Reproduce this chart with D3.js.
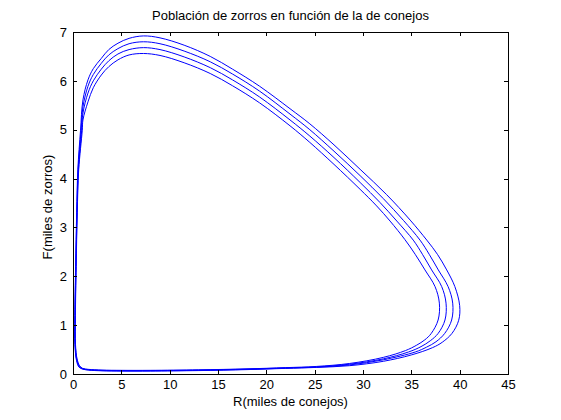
<!DOCTYPE html>
<html>
<head>
<meta charset="utf-8">
<script src="https://cdn.jsdelivr.net/npm/d3@7"></script>
<style>
  body { margin: 0; background: #fff; }
  text { font-family: Arial, "Liberation Sans", sans-serif; }
</style>
</head>
<body>
<div class="graph"></div>
<script>
// readings of the four orbits, R (thousand rabbits) and F (thousand foxes)
var rabbitsA = [0.36, 0.62, 1.0, 1.6, 3, 5, 8, 13, 18, 22, 25.2, 28.6, 32.1, 35.0, 37.2, 38.2, 39.2, 39.9, 40.0, 39.5, 38.66, 37.7, 36.6, 34.88, 32.45, 29.7, 27.0, 24.5, 22.45, 19.3, 16.5, 14.2, 11.5, 9.0, 7.3, 5.8, 4.65, 3.7, 2.93, 2.1, 1.55, 1.03, 0.78, 0.5, 0.38, 0.27, 0.19, 0.2];
var foxesA   = [0.28, 0.14, 0.10, 0.08, 0.065, 0.06, 0.06, 0.07, 0.09, 0.115, 0.135, 0.17, 0.26, 0.39, 0.54, 0.65, 0.83, 1.1, 1.4, 1.79, 2.13, 2.45, 2.74, 3.15, 3.67, 4.19, 4.69, 5.12, 5.43, 5.89, 6.24, 6.5, 6.73, 6.88, 6.92, 6.87, 6.77, 6.64, 6.46, 6.25, 6.02, 5.61, 4.99, 4.18, 3.3, 2.2, 1.2, 0.6];

var rabbitsB = [0.38, 0.64, 1.0, 1.6, 3, 5, 8, 13, 18, 22, 25.2, 28.6, 32.1, 35.4, 36.58, 37.55, 38.45, 39.17, 39.28, 38.8, 37.79, 36.85, 35.9, 34.2, 32.1, 29.7, 27.0, 24.5, 22.45, 19.3, 16.5, 14.2, 11.5, 9.0, 7.3, 5.8, 4.65, 3.7, 2.93, 2.1, 1.55, 1.03, 0.84, 0.53, 0.40, 0.29, 0.21, 0.22];
var foxesB   = [0.29, 0.15, 0.105, 0.085, 0.07, 0.065, 0.065, 0.075, 0.095, 0.12, 0.14, 0.185, 0.29, 0.45, 0.55, 0.66, 0.83, 1.105, 1.45, 1.79, 2.13, 2.45, 2.74, 3.14, 3.59, 4.06, 4.56, 5.0, 5.32, 5.79, 6.14, 6.39, 6.61, 6.76, 6.80, 6.76, 6.66, 6.53, 6.36, 6.13, 5.89, 5.47, 4.99, 4.18, 3.3, 2.2, 1.2, 0.6];

var rabbitsC = [0.40, 0.66, 1.0, 1.6, 3, 5, 8, 13, 18, 22, 25.2, 28.6, 32.1, 34.7, 36.0, 36.96, 37.77, 38.48, 38.59, 38.14, 37.1, 36.15, 35.2, 33.5, 31.76, 29.7, 27.0, 24.5, 22.45, 19.3, 16.5, 14.2, 11.5, 9.0, 7.3, 5.8, 4.65, 3.7, 2.93, 2.1, 1.55, 1.03, 0.90, 0.56, 0.42, 0.31, 0.23, 0.24];
var foxesC   = [0.30, 0.16, 0.11, 0.09, 0.075, 0.07, 0.07, 0.08, 0.10, 0.125, 0.145, 0.20, 0.31, 0.45, 0.56, 0.68, 0.83, 1.105, 1.45, 1.79, 2.13, 2.45, 2.74, 3.13, 3.51, 3.92, 4.43, 4.87, 5.2, 5.67, 6.02, 6.27, 6.49, 6.64, 6.68, 6.64, 6.55, 6.41, 6.24, 6.00, 5.75, 5.34, 4.99, 4.18, 3.3, 2.2, 1.2, 0.6];

var rabbitsD = [0.42, 0.68, 1.0, 1.6, 3, 5, 8, 13, 18, 22, 25.2, 28.6, 32.1, 34.4, 35.55, 36.4, 37.06, 37.77, 37.9, 37.45, 36.41, 35.4, 34.34, 32.8, 31.41, 29.7, 27.0, 24.5, 22.45, 19.3, 16.5, 14.2, 11.5, 9.0, 7.3, 5.8, 4.65, 3.7, 2.93, 2.1, 1.55, 1.03, 0.96, 0.59, 0.44, 0.33, 0.25, 0.26];
var foxesD   = [0.31, 0.17, 0.115, 0.095, 0.08, 0.075, 0.075, 0.085, 0.105, 0.13, 0.155, 0.215, 0.34, 0.48, 0.59, 0.70, 0.83, 1.105, 1.45, 1.79, 2.13, 2.45, 2.75, 3.13, 3.44, 3.78, 4.29, 4.74, 5.08, 5.55, 5.90, 6.15, 6.37, 6.52, 6.56, 6.53, 6.43, 6.29, 6.12, 5.86, 5.57, 5.20, 4.99, 4.18, 3.3, 2.2, 1.2, 0.6];

var xTicks = [0, 5, 10, 15, 20, 25, 30, 35, 40, 45];
var yTicks = [0, 1, 2, 3, 4, 5, 6, 7];

const width = 561;
const height = 420;
const padLeft = 73, padRight = 508, padTop = 32, padBottom = 374;

var orbits = [[rabbitsA, foxesA], [rabbitsB, foxesB], [rabbitsC, foxesC], [rabbitsD, foxesD]];

var svg = d3.select(".graph")
    .append("svg")
    .attr("width", width)
    .attr("height", height);

var scaleX = d3.scaleLinear().domain([0, 45]).range([padLeft, padRight]);
var scaleY = d3.scaleLinear().domain([0, 7]).range([padBottom, padTop]);

// curves first, axes drawn on top
var line = d3.line()
    .x(d => scaleX(d[0]))
    .y(d => scaleY(d[1]))
    .curve(d3.curveCatmullRomClosed.alpha(0.5));

svg.selectAll("path.orbit")
    .data(orbits)
    .enter()
    .append("path")
    .attr("class", "orbit")
    .attr("d", o => line(o[0].map((r, i) => [r, o[1][i]])))
    .attr("fill", "none")
    .attr("stroke", "#0000ff")
    .attr("stroke-width", 1);

// Adding axes (box with ticks inside, like matlab)
function styleAxis(g) {
    g.attr("font-size", 13).attr("font-family", "Arial, 'Liberation Sans', sans-serif");
    g.selectAll("path.domain").attr("stroke", "#000").attr("shape-rendering", "crispEdges");
    g.selectAll(".tick line").attr("stroke", "#000").attr("shape-rendering", "crispEdges");
    g.selectAll(".tick text").attr("fill", "#000");
}

var fmt = d3.format("d");

svg.append("g")
    .attr("transform", "translate(0," + padBottom + ")")
    .call(d3.axisBottom(scaleX).tickValues(xTicks).tickFormat(fmt).tickSizeInner(-4).tickSizeOuter(0).tickPadding(6))
    .call(styleAxis);

svg.append("g")
    .attr("transform", "translate(0," + padTop + ")")
    .call(d3.axisTop(scaleX).tickValues(xTicks).tickSizeInner(-4).tickSizeOuter(0).tickFormat(""))
    .call(styleAxis);

svg.append("g")
    .attr("transform", "translate(" + padLeft + ",0)")
    .call(d3.axisLeft(scaleY).tickValues(yTicks).tickFormat(fmt).tickSizeInner(-4).tickSizeOuter(0).tickPadding(6))
    .call(styleAxis);

svg.append("g")
    .attr("transform", "translate(" + padRight + ",0)")
    .call(d3.axisRight(scaleY).tickValues(yTicks).tickSizeInner(-4).tickSizeOuter(0).tickFormat(""))
    .call(styleAxis);

// labels
svg.append("text")
    .attr("x", (padLeft + padRight) / 2)
    .attr("y", 20)
    .attr("text-anchor", "middle")
    .attr("font-size", 13)
    .text("Población de zorros en función de la de conejos");

svg.append("text")
    .attr("x", (padLeft + padRight) / 2)
    .attr("y", 406)
    .attr("text-anchor", "middle")
    .attr("font-size", 13)
    .text("R(miles de conejos)");

svg.append("text")
    .attr("transform", "translate(52," + ((padTop + padBottom) / 2 + 4) + ") rotate(-90)")
    .attr("text-anchor", "middle")
    .attr("font-size", 13)
    .text("F(miles de zorros)");
</script>
</body>
</html>
